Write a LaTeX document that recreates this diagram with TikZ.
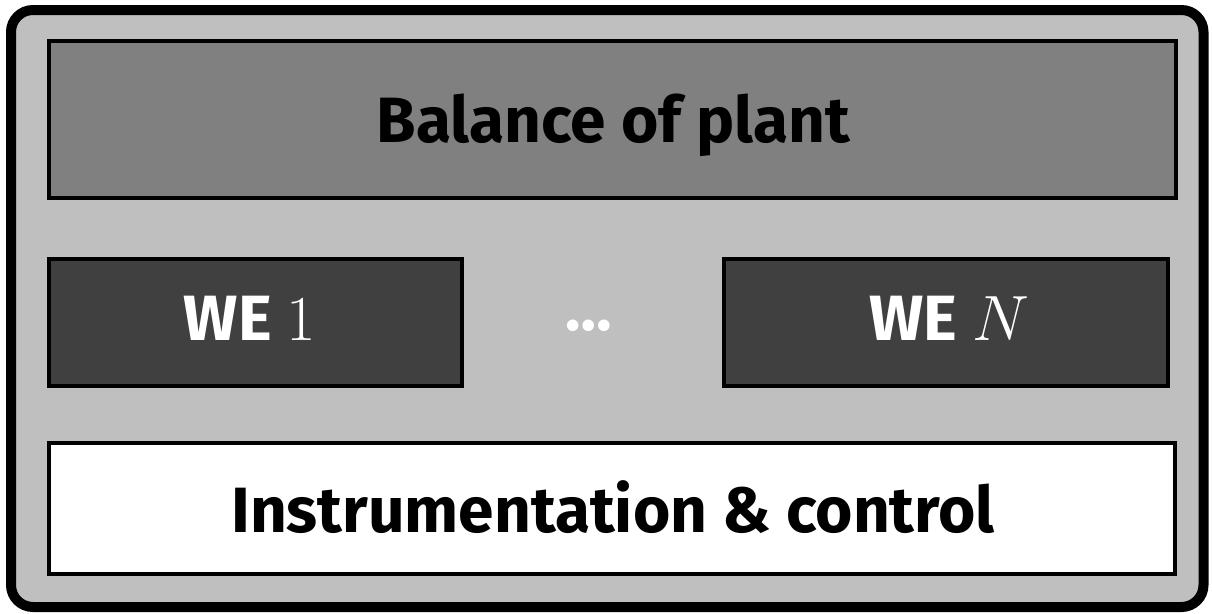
\RequirePackage{fix-cm}
\documentclass[tikz,border=0pt]{standalone}
\usepackage{fontspec}
\setmainfont{Fira Sans}
\definecolor{outerfill}{HTML}{BFBFBF}
\definecolor{bopfill}{HTML}{808080}
\definecolor{wefill}{HTML}{404040}
\tikzset{
  blk/.style={draw=black, line width=4pt, rectangle, inner sep=0pt},
  lbl/.style={anchor=base, inner sep=0pt, font=\fontsize{64}{76}\selectfont\bfseries},
}
\begin{document}
\begin{tikzpicture}[x=1pt,y=-1pt]
\useasboundingbox (0,0) rectangle (1212,613);
\draw[line width=10pt, fill=outerfill, rounded corners=22pt] (11,10) rectangle (1203.5,607);
\node[blk, fill=bopfill, minimum width=1127pt, minimum height=157pt] (bop) at (612.5,119.5) {};
\node[blk, fill=wefill, minimum width=412.5pt, minimum height=127pt] (we1) at (255.25,322.25) {};
\node[blk, fill=wefill, minimum width=444pt, minimum height=127pt] (wen) at (945.5,322.25) {};
\node[blk, fill=white, minimum width=1126pt, minimum height=131pt] (ic) at (612,508.5) {};
\node[lbl] (bopt) at (613.5,142) {Balance of plant};
\node[lbl, text=white] (we1t) at (250,340) {WE $1$};
\node[lbl, text=white] (went) at (949,340) {WE $N$};
\node[lbl] (ict) at (613,532) {Instrumentation \& control};
\node[inner sep=0pt, text=white, font=\fontsize{64}{76}\selectfont\bfseries] (dots) at (589,326) {…};
\end{tikzpicture}
\end{document}
